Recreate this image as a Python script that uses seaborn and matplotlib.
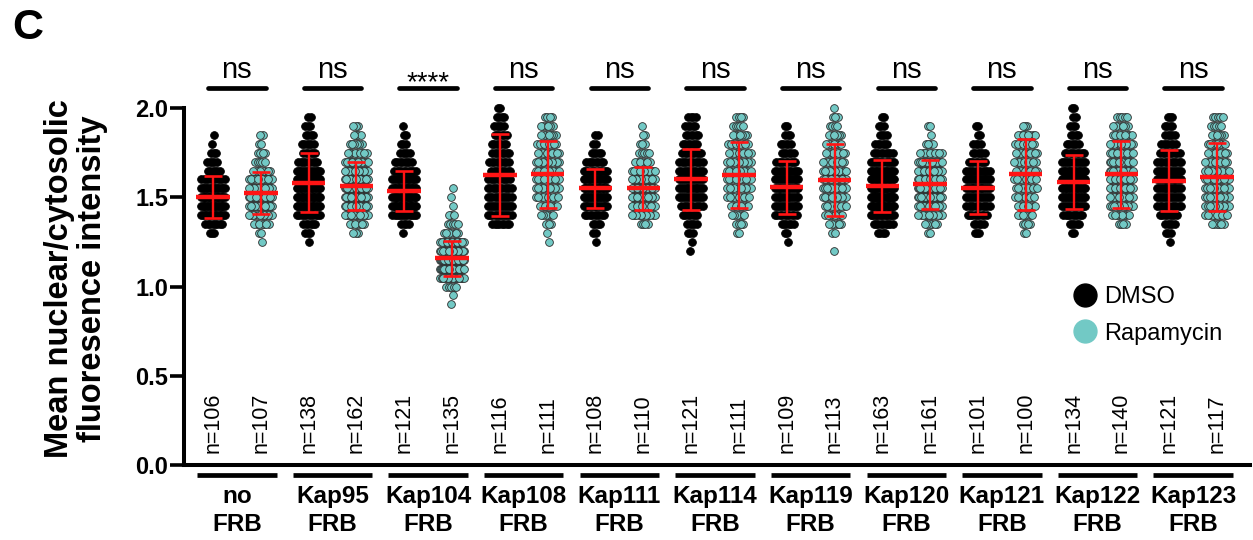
import numpy as np
import pandas as pd
import matplotlib
matplotlib.use("Agg")
import matplotlib.pyplot as plt
import seaborn as sns
from matplotlib.lines import Line2D

# ---------------- data ----------------
constructs = ["no", "Kap95", "Kap104", "Kap108", "Kap111", "Kap114",
              "Kap119", "Kap120", "Kap121", "Kap122", "Kap123"]
treatments = ["DMSO", "Rapamycin"]
significance = ["ns", "ns", "****", "ns", "ns", "ns", "ns", "ns", "ns", "ns", "ns"]

n_dmso = [106, 138, 121, 116, 108, 121, 109, 163, 101, 134, 121]
n_rapa = [107, 162, 135, 111, 110, 111, 113, 161, 100, 140, 117]

mean_dmso = [1.500, 1.582, 1.537, 1.625, 1.550, 1.600, 1.556, 1.563, 1.554, 1.587, 1.593]
sd_dmso = [0.117, 0.167, 0.112, 0.230, 0.110, 0.170, 0.150, 0.147, 0.150, 0.150, 0.170]
mean_rapa = [1.522, 1.563, 1.158, 1.628, 1.550, 1.625, 1.597, 1.572, 1.628, 1.628, 1.612]
sd_rapa = [0.118, 0.137, 0.099, 0.190, 0.121, 0.185, 0.200, 0.135, 0.200, 0.190, 0.190]

# frequency table of the cell values (bins of 0.05), estimated from the swarms
bin_centers = [0.90, 0.95, 1.00, 1.05, 1.10, 1.15, 1.20, 1.25, 1.30, 1.35, 1.40, 1.45,
               1.50, 1.55, 1.60, 1.65, 1.70, 1.75, 1.80, 1.85, 1.90, 1.95, 2.00]
counts_dmso = [
    [0, 0, 0, 0, 0, 0, 0, 0, 3, 8, 15, 18, 19, 16, 11, 6, 5, 3, 1, 1, 0, 0, 0],
    [0, 0, 0, 0, 0, 0, 0, 1, 3, 6, 11, 17, 20, 18, 18, 14, 9, 6, 6, 4, 3, 2, 0],
    [0, 0, 0, 0, 0, 0, 0, 0, 1, 4, 12, 20, 21, 19, 15, 10, 8, 5, 3, 2, 1, 0, 0],
    [0, 0, 0, 0, 0, 0, 0, 0, 0, 8, 12, 13, 12, 11, 10, 9, 9, 8, 7, 6, 5, 4, 2],
    [0, 0, 0, 0, 0, 0, 0, 1, 2, 4, 9, 14, 17, 18, 15, 11, 8, 5, 2, 2, 0, 0, 0],
    [0, 0, 0, 0, 0, 0, 1, 1, 3, 5, 7, 10, 13, 14, 13, 12, 11, 9, 7, 6, 5, 4, 0],
    [0, 0, 0, 0, 0, 0, 0, 1, 2, 6, 10, 13, 14, 14, 13, 11, 9, 6, 5, 3, 2, 0, 0],
    [0, 0, 0, 0, 0, 0, 0, 0, 4, 9, 15, 20, 23, 22, 19, 15, 12, 9, 6, 4, 3, 2, 0],
    [0, 0, 0, 0, 0, 0, 0, 0, 3, 5, 9, 11, 13, 14, 13, 11, 8, 6, 4, 2, 2, 0, 0],
    [0, 0, 0, 0, 0, 0, 0, 0, 2, 5, 9, 13, 17, 18, 17, 15, 12, 9, 6, 4, 3, 2, 2],
    [0, 0, 0, 0, 0, 0, 0, 1, 3, 5, 8, 11, 13, 14, 14, 13, 11, 9, 7, 5, 4, 3, 0],
]
counts_rapa = [
    [0, 0, 0, 0, 0, 0, 0, 1, 2, 7, 12, 17, 19, 16, 12, 8, 5, 4, 2, 2, 0, 0, 0],
    [0, 0, 0, 0, 0, 0, 0, 0, 3, 7, 13, 19, 22, 24, 22, 17, 13, 9, 6, 4, 3, 0, 0],
    [1, 1, 5, 16, 28, 30, 21, 15, 7, 5, 3, 1, 1, 1, 0, 0, 0, 0, 0, 0, 0, 0, 0],
    [0, 0, 0, 0, 0, 0, 0, 1, 1, 3, 6, 8, 10, 11, 12, 12, 11, 10, 9, 7, 6, 4, 0],
    [0, 0, 0, 0, 0, 0, 0, 0, 0, 4, 11, 14, 17, 18, 16, 12, 7, 5, 3, 2, 1, 0, 0],
    [0, 0, 0, 0, 0, 0, 0, 0, 2, 4, 6, 8, 10, 11, 12, 12, 11, 10, 9, 7, 5, 4, 0],
    [0, 0, 0, 0, 0, 0, 1, 0, 2, 6, 8, 10, 11, 12, 12, 11, 10, 9, 7, 6, 4, 3, 1],
    [0, 0, 0, 0, 0, 0, 0, 0, 2, 6, 12, 18, 23, 25, 24, 19, 15, 10, 4, 1, 2, 0, 0],
    [0, 0, 0, 0, 0, 0, 0, 0, 2, 4, 7, 8, 9, 10, 10, 10, 10, 10, 9, 8, 3, 0, 0],
    [0, 0, 0, 0, 0, 0, 0, 0, 0, 4, 8, 11, 13, 15, 15, 15, 14, 13, 11, 9, 7, 5, 0],
    [0, 0, 0, 0, 0, 0, 0, 0, 0, 6, 10, 11, 12, 12, 12, 11, 10, 9, 8, 6, 5, 5, 0],
]

yticks = [0.0, 0.5, 1.0, 1.5, 2.0]
ytick_labels = ["0.0", "0.5", "1.0", "1.5", "2.0"]

# ---------------- style ----------------
sns.set_style("ticks")
plt.rcParams["font.family"] = ["Liberation Sans", "DejaVu Sans"]
plt.rcParams.update({"text.color": "black", "axes.edgecolor": "black",
                     "axes.labelcolor": "black", "xtick.color": "black",
                     "ytick.color": "black"})

BLACK = "#000000"
TEAL = "#72C9C5"
RED = "#FF1414"
MAX_HALF = 0.245   # widest half-spread of a swarm, in category units
STEP = 0.05        # horizontal step between neighbouring cells in a row

for p in range(len(constructs)):
    if sum(counts_dmso[p]) != n_dmso[p] or sum(counts_rapa[p]) != n_rapa[p]:
        print("count mismatch", constructs[p], sum(counts_dmso[p]), sum(counts_rapa[p]))

# expand frequency table into individual cells; horizontal spread is a beeswarm-like layout
rows = []
for p in range(len(constructs)):
    for t, counts in enumerate((counts_dmso[p], counts_rapa[p])):
        cat = 2 * p + t
        for r, (yv, k) in enumerate(zip(bin_centers, counts)):
            if k == 0:
                continue
            half = min(MAX_HALF, 0.5 * (k - 1) * STEP)
            shift = 0.018 if (r % 2) else -0.018
            if half + abs(shift) > MAX_HALF:
                shift = 0.0
            xs = np.linspace(-half, half, k) + shift
            order = np.argsort([((i * 5 + r) % k) for i in range(k)])
            for xo in xs[order]:
                rows.append((treatments[t], cat + xo, yv))
df = pd.DataFrame(rows, columns=["treatment", "x", "value"])

fig = plt.figure(figsize=(12.53, 5.40), dpi=100)
ax = fig.add_axes([0.1468, 0.1389, 0.8508, 0.661])

sns.scatterplot(data=df[df["treatment"] == "DMSO"], x="x", y="value", color=BLACK,
                edgecolor=BLACK, s=31, linewidth=0.6, legend=False, clip_on=False,
                zorder=2, ax=ax)
sns.scatterplot(data=df[df["treatment"] == "Rapamycin"], x="x", y="value", color=TEAL,
                edgecolor="#2a2a2a", s=31, linewidth=0.6, legend=False, clip_on=False,
                zorder=2, ax=ax)

# mean +/- SD
for p in range(len(constructs)):
    for t, (m, s) in enumerate(((mean_dmso[p], sd_dmso[p]), (mean_rapa[p], sd_rapa[p]))):
        cx = 2 * p + t
        ax.hlines(m, cx - 0.35, cx + 0.35, color=RED, lw=3.2, zorder=5)
        ax.errorbar(cx, m, yerr=s, fmt="none", ecolor=RED, elinewidth=1.7,
                    capsize=6.8, capthick=1.9, zorder=5)

# axes
ax.set_xlim(-0.607, 21.69)
ax.set_ylim(0, 2.0)
ax.set_xticks([])
ax.set_yticks(yticks)
ax.set_yticklabels(ytick_labels, fontsize=17, fontweight="bold", color="black")
ax.set_xlabel("")
ax.set_ylabel("")
sns.despine(ax=ax)
for side in ("left", "bottom"):
    ax.spines[side].set_linewidth(2.9)
    ax.spines[side].set_color("black")
ax.tick_params(axis="y", length=10, width=2.6, pad=1.5, colors="black")

# n labels
for p in range(len(constructs)):
    for t, n in enumerate((n_dmso[p], n_rapa[p])):
        ax.text(2 * p + t, 0.067, f"n={n}", rotation=90, ha="center", va="bottom",
                fontsize=15.5, color="black")

# significance and group labels
for p in range(len(constructs)):
    c = 2 * p + 0.5
    ax.plot([c - 0.6, c + 0.6], [2.112, 2.112], color="black", lw=3.4,
            solid_capstyle="round", clip_on=False)
    if significance[p] == "ns":
        ax.text(c, 2.168, "ns", ha="center", va="baseline", fontsize=21, clip_on=False)
    else:
        ax.text(c, 2.10, significance[p], ha="center", va="baseline", fontsize=20,
                clip_on=False)
    ax.plot([c - 0.83, c + 0.83], [-0.056, -0.056], color="black", lw=3.4,
            solid_capstyle="butt", clip_on=False)
    ax.text(c, -0.213, constructs[p], ha="center", va="baseline", fontsize=17.5,
            fontweight="bold", clip_on=False)
    ax.text(c, -0.370, "FRB", ha="center", va="baseline", fontsize=17.5,
            fontweight="bold", clip_on=False)

# legend
handles = [Line2D([], [], marker="o", ls="", markersize=16.5, markerfacecolor=BLACK,
                  markeredgecolor=BLACK),
           Line2D([], [], marker="o", ls="", markersize=16.5, markerfacecolor=TEAL,
                  markeredgecolor=TEAL)]
fig.legend(handles, treatments, loc="upper left", bbox_to_anchor=(1073 / 1253, 1 - 286 / 540),
           frameon=False, fontsize=17, handlelength=1.0, handletextpad=0.3,
           labelspacing=0.62, borderpad=0, borderaxespad=0)

# y label and panel letter
fig.text(76 / 1253, 1 - 279 / 540, "Mean nuclear/cytosolic\nfluoresence intensity",
         rotation=90, ha="center", va="center", fontsize=23.5, fontweight="bold",
         linespacing=1.05, multialignment="center")
fig.text(12 / 1253, 1 - 8 / 540, "C", ha="left", va="top", fontsize=31, fontweight="bold")

fig.savefig("out.png", dpi=100)
